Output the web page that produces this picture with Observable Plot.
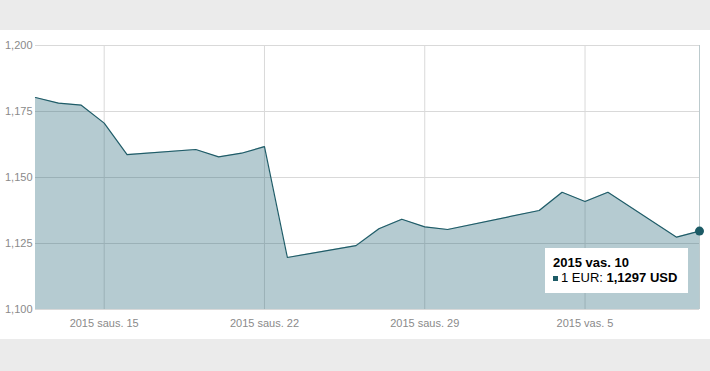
<!DOCTYPE html>
<html>
<head>
<meta charset="utf-8">
<script src="https://cdn.jsdelivr.net/npm/d3@7"></script>
<script src="https://cdn.jsdelivr.net/npm/@observablehq/plot@0.6"></script>
<style>
html, body { margin: 0; padding: 0; background: #ebebeb; width: 710px; height: 371px; overflow: hidden; font-family: "Liberation Sans", Arial, sans-serif; }
#wrap { position: absolute; left: 0; top: 30px; width: 710px; height: 309px; background: #fff; }
#tip { position: absolute; background: #fff; box-sizing: border-box; width: 143px; height: 45px; padding: 8px 0 0 8px; font-size: 13px; line-height: 14.5px; color: #000; white-space: nowrap; }
#tip .sq { display: inline-block; width: 5px; height: 5px; background: #1c5b66; margin-right: 3px; vertical-align: 1px; }
</style>
</head>
<body>
<div id="wrap"></div>
<script>
const dates = ["2015-01-12","2015-01-13","2015-01-14","2015-01-15","2015-01-16",
  "2015-01-19","2015-01-20","2015-01-21","2015-01-22","2015-01-23",
  "2015-01-26","2015-01-27","2015-01-28","2015-01-29","2015-01-30",
  "2015-02-03","2015-02-04","2015-02-05","2015-02-06",
  "2015-02-09","2015-02-10"];
const values = [1.1803, 1.1782, 1.1774, 1.1706, 1.1587,
  1.1606, 1.1578, 1.1592, 1.1617, 1.1197,
  1.1242, 1.1306, 1.1342, 1.1313, 1.1303,
  1.1375, 1.1444, 1.1409, 1.1444,
  1.1274, 1.1297];
const yTicks = [1.100, 1.125, 1.150, 1.175, 1.200];
const xTickDates = ["2015-01-15","2015-01-22","2015-01-29","2015-02-05"];
const monthNames = ["saus.","vas.","kov.","bal.","geg.","birž.","liep.","rugp.","rugs.","spal.","lapkr.","gruod."];
const xDomain = ["2015-01-12","2015-02-10"];

const data = dates.map((d, i) => ({date: new Date(d), value: values[i]}));
const xTicks = xTickDates.map(d => new Date(d));
const fmtDate = d => `${d.getUTCFullYear()} ${monthNames[d.getUTCMonth()]} ${d.getUTCDate()}`;
const fmtNum = (v, n) => v.toFixed(n).replace(".", ",");
const last = data[data.length - 1];

const plot = Plot.plot({
  width: 710,
  height: 309,
  marginTop: 15,
  marginBottom: 30,
  marginLeft: 35,
  marginRight: 11,
  style: {fontSize: "11px", fontFamily: "'Liberation Sans', Arial, sans-serif", color: "#8a8a8a", background: "transparent"},
  x: {type: "utc", domain: xDomain.map(d => new Date(d))},
  y: {domain: [yTicks[0], yTicks[yTicks.length - 1]]},
  marks: [
    Plot.gridY(yTicks, {stroke: "#d9d9d9", strokeOpacity: 1}),
    Plot.gridX(xTicks, {stroke: "#d9d9d9", strokeOpacity: 1}),
    Plot.ruleX([last.date], {stroke: "#bccacd"}),
    Plot.areaY(data, {x: "date", y1: yTicks[0], y2: "value", fill: "#1d6274", fillOpacity: 0.33}),
    Plot.lineY(data, {x: "date", y: "value", stroke: "#1f5c68", strokeWidth: 1.2}),
    Plot.dot([last], {x: "date", y: "value", r: 4.5, fill: "#1c5b66"}),
    Plot.axisY(yTicks, {tickSize: 0, tickPadding: 3, tickFormat: v => fmtNum(v, 3), label: null}),
    Plot.axisX(xTicks, {tickSize: 0, tickPadding: 10, tickFormat: fmtDate, label: null})
  ]
});
const wrap = document.getElementById("wrap");
wrap.appendChild(plot);

const px = plot.scale("x").apply(last.date);
const py = plot.scale("y").apply(last.value);
const tip = document.createElement("div");
tip.id = "tip";
tip.innerHTML = `<div><b>${fmtDate(last.date)}</b></div><div><span class="sq"></span>1 EUR: <b>${fmtNum(last.value, 4)} USD</b></div>`;
tip.style.left = (px - 11 - 143) + "px";
tip.style.top = (py + 17.5) + "px";
wrap.appendChild(tip);
</script>
</body>
</html>
